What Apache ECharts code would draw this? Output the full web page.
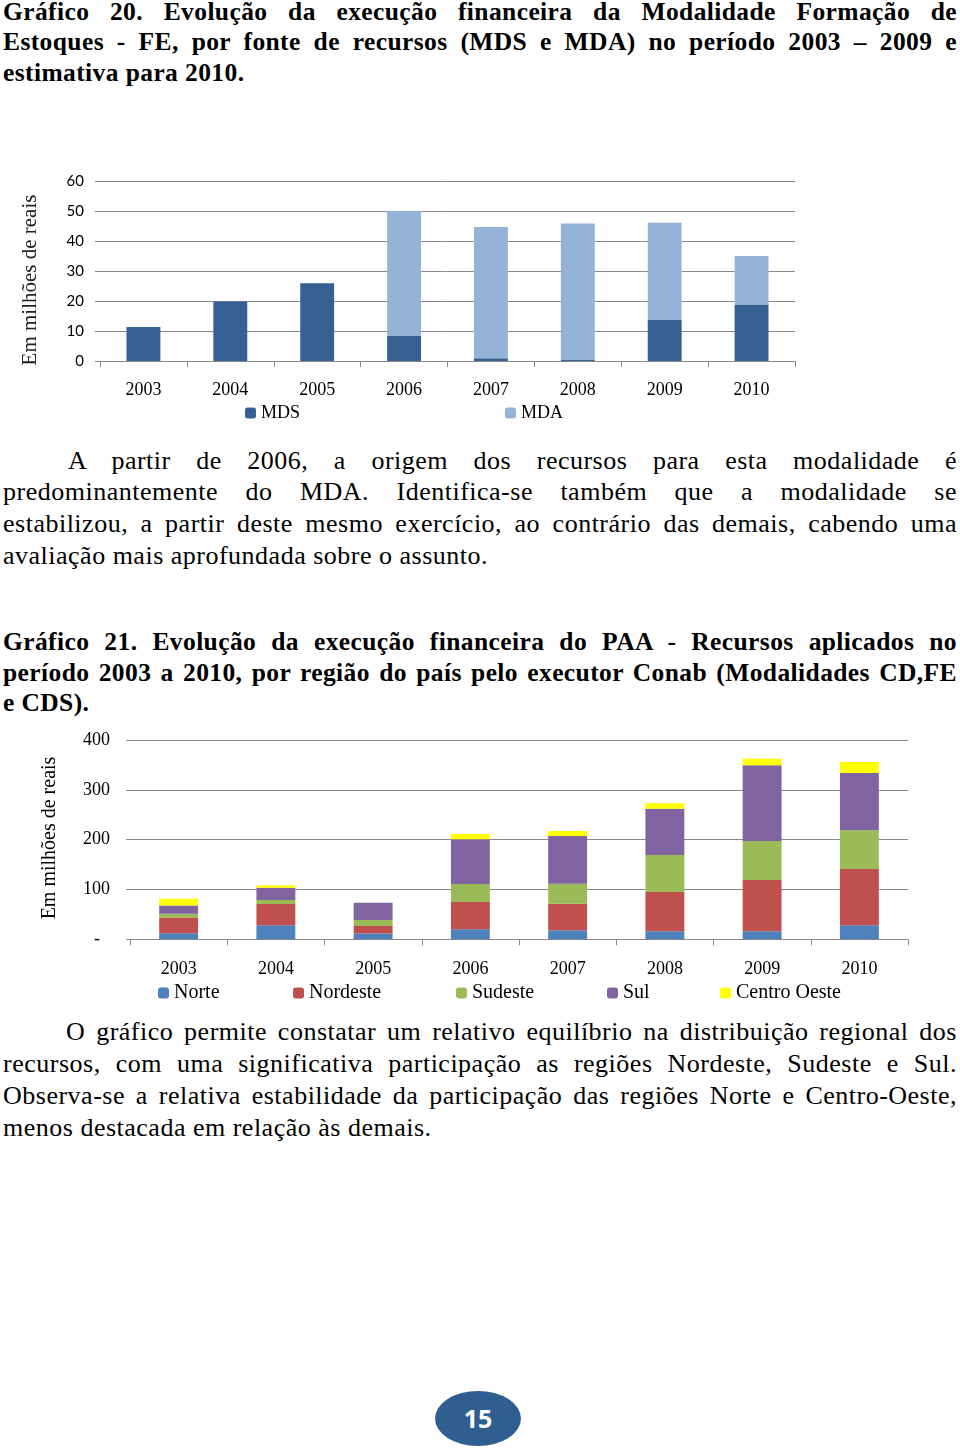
<!DOCTYPE html>
<html><head><meta charset="utf-8">
<script src="https://cdn.jsdelivr.net/npm/echarts@6/dist/echarts.min.js"></script>
<style>
html,body{margin:0;padding:0;background:#fff;}
body{width:960px;height:1451px;position:relative;overflow:hidden;font-family:"Liberation Serif",serif;color:#000;}
.ln{position:absolute;left:3px;width:954px;height:32px;line-height:32px;font-size:26px;letter-spacing:0.5px;white-space:nowrap;text-align:justify;text-align-last:justify;}
.b{font-weight:bold;font-size:25.5px;letter-spacing:0.4px;}
.last{text-align:left;text-align-last:left;}
#pg{position:absolute;left:435px;top:1391px;width:86px;height:55px;border-radius:50%;background:#2f5e91;color:#fff;font:bold 25px "Open Sans",sans-serif;text-align:center;line-height:55px;}
</style></head>
<body>
<div class="ln b" style="top:-4px">Gráfico 20. Evolução da execução financeira da Modalidade Formação de</div>
<div class="ln b" style="top:26px">Estoques - FE, por fonte de recursos (MDS e MDA) no período 2003 – 2009 e</div>
<div class="ln b last" style="top:57px">estimativa para 2010.</div>

<div id="c1" style="position:absolute;left:0;top:170px;width:960px;height:260px;"></div>

<div class="ln" style="top:445px;left:68px;width:889px;">A partir de 2006, a origem dos recursos para esta modalidade é</div>
<div class="ln" style="top:476px">predominantemente do MDA. Identifica-se também que a modalidade se</div>
<div class="ln" style="top:508px">estabilizou, a partir deste mesmo exercício, ao contrário das demais, cabendo uma</div>
<div class="ln last" style="top:540px">avaliação mais aprofundada sobre o assunto.</div>

<div class="ln b" style="top:626px">Gráfico 21. Evolução da execução financeira do PAA - Recursos aplicados no</div>
<div class="ln b" style="top:657px">período 2003 a 2010, por região do país pelo executor Conab (Modalidades CD,FE</div>
<div class="ln b last" style="top:687px">e CDS).</div>

<div id="c2" style="position:absolute;left:0;top:730px;width:960px;height:280px;"></div>

<div class="ln" style="top:1016px;left:66px;width:891px;">O gráfico permite constatar um relativo equilíbrio na distribuição regional dos</div>
<div class="ln" style="top:1048px">recursos, com uma significativa participação as regiões Nordeste, Sudeste e Sul.</div>
<div class="ln" style="top:1080px">Observa-se a relativa estabilidade da participação das regiões Norte e Centro-Oeste,</div>
<div class="ln last" style="top:1112px">menos destacada em relação às demais.</div>

<div id="pg">15</div>

<script>
// ---- Chart 1 data ----
const years = ['2003','2004','2005','2006','2007','2008','2009','2010'];
const mds = [11.3, 19.8, 25.9, 8.3, 0.9, 0.5, 13.7, 18.8];
const mda = [0, 0, 0, 41.7, 43.8, 45.3, 32.4, 16.2];
const axisTitle = 'Em milhões de reais';

// ---- Chart 2 data ----
const regions = ['Norte','Nordeste','Sudeste','Sul','Centro Oeste'];
const norte    = [12, 28, 11.4, 20, 18, 16, 16, 28];
const nordeste = [32, 43, 15.4, 55, 53.6, 79, 103, 113];
const sudeste  = [7.5, 8, 12, 36, 40, 74.2, 78.3, 77.7];
const sul      = [16.5, 24.7, 34.8, 89.7, 95.7, 93, 151.9, 115.1];
const centroOeste = [13.6, 4.7, 0, 10.7, 10, 10.7, 13.3, 22.1];

const grey = '#8a8a8a';
const serif = '"Liberation Serif", serif';

const c1 = echarts.init(document.getElementById('c1'));
c1.setOption({
  animation:false,
  grid:{left:100, right:165, top:11, height:180},
  legend:[
    {data:['MDS'], left:245, top:234, padding:0, itemWidth:11, itemHeight:11, itemGap:5, textStyle:{fontFamily:serif, fontSize:18, color:'#000'}},
    {data:['MDA'], left:505, top:234, padding:0, itemWidth:11, itemHeight:11, itemGap:5, textStyle:{fontFamily:serif, fontSize:18, color:'#000'}}
  ],
  xAxis:{type:'category', data:years,
    axisLine:{lineStyle:{color:grey}}, axisTick:{show:true, length:6, lineStyle:{color:grey}},
    axisLabel:{margin:20, fontFamily:serif, fontSize:18, color:'#000'}},
  yAxis:{type:'value', min:0, max:60, interval:10,
    axisLine:{show:false}, axisTick:{show:true, length:5, lineStyle:{color:grey}},
    splitLine:{lineStyle:{color:grey}},
    axisLabel:{margin:16, fontFamily:'Lato, sans-serif', fontSize:15, color:'#000'}},
  graphic:[{type:'text', x:30, y:110, rotation:Math.PI/2,
    style:{text:axisTitle, align:'center', verticalAlign:'middle', font:'21px "Liberation Serif", serif', fill:'#222'}}],
  series:[
    {name:'MDS', type:'bar', stack:'a', data:mds, barWidth:'39%', itemStyle:{color:'#366092'}},
    {name:'MDA', type:'bar', stack:'a', data:mda, barWidth:'39%', itemStyle:{color:'#95b3d7'}}
  ]
});

const colors2 = ['#4f81bd','#c0504d','#9bbb59','#8064a2','#ffff00'];
const vals2 = [norte, nordeste, sudeste, sul, centroOeste];
const legLeft = [158, 293, 456, 607, 720];
const c2 = echarts.init(document.getElementById('c2'));
c2.setOption({
  animation:false,
  grid:{left:130, right:52, top:10, height:199.3},
  legend: regions.map((r,i)=>({data:[r], left:legLeft[i], top:253, padding:0, itemWidth:11, itemHeight:11, itemGap:5,
    textStyle:{fontFamily:serif, fontSize:20, color:'#000'}})),
  xAxis:{type:'category', data:years,
    axisLine:{lineStyle:{color:grey}}, axisTick:{show:true, length:6, lineStyle:{color:grey}},
    axisLabel:{margin:21, fontFamily:serif, fontSize:18, color:'#000'}},
  yAxis:{type:'value', min:0, max:400, interval:100,
    axisLine:{show:false}, axisTick:{show:true, length:4, lineStyle:{color:grey}},
    splitLine:{lineStyle:{color:grey}},
    axisLabel:{margin:20, fontFamily:serif, fontSize:18, color:'#000',
      formatter:v=>v===0?'{d|-}':String(v), rich:{d:{fontFamily:serif, fontSize:18, padding:[0,10,0,0]}}}},
  graphic:[{type:'text', x:50, y:108, rotation:Math.PI/2,
    style:{text:axisTitle, align:'center', verticalAlign:'middle', font:'20px "Liberation Serif", serif', fill:'#000'}}],
  series: regions.map((r,i)=>({name:r, type:'bar', stack:'s', data:vals2[i], barWidth:'40%', itemStyle:{color:colors2[i]}}))
});
</script>
</body></html>
